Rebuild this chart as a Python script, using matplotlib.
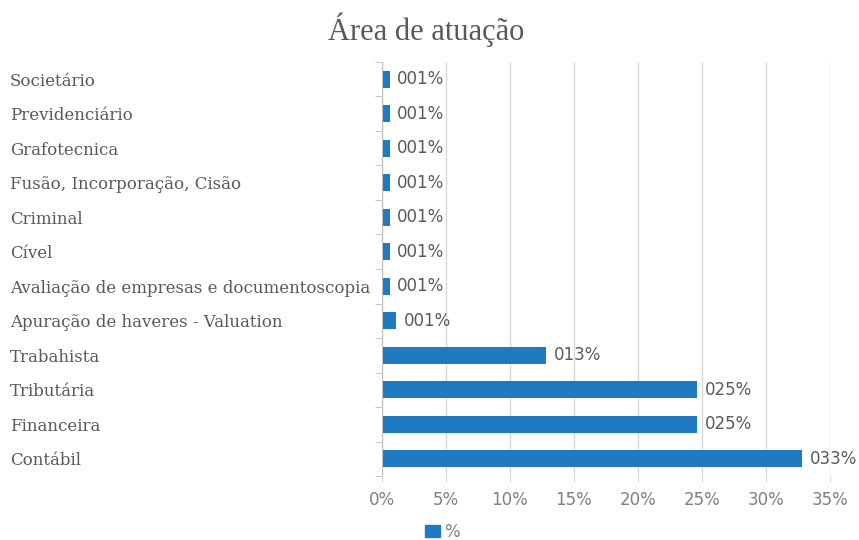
import matplotlib
matplotlib.use("Agg")
import matplotlib.pyplot as plt
from matplotlib.patches import Patch
import numpy as np

categories = ["Contábil", "Financeira", "Tributária", "Trabahista",
              "Apuração de haveres - Valuation",
              "Avaliação de empresas e documentoscopia",
              "Cível", "Criminal", "Fusão, Incorporação, Cisão",
              "Grafotecnica", "Previdenciário", "Societário"]
values = [32.8, 24.6, 24.6, 12.8, 1.1, 0.6, 0.6, 0.6, 0.6, 0.6, 0.6, 0.6]
value_labels = ["033%", "025%", "025%", "013%", "001%", "001%", "001%",
                "001%", "001%", "001%", "001%", "001%"]
xticks = [0, 5, 10, 15, 20, 25, 30, 35]
xtick_labels = ["0%", "5%", "10%", "15%", "20%", "25%", "30%", "35%"]
title = "Área de atuação"
series_name = "%"

bar_color = "#1f7ac2"
text_gray = "#595959"
tick_gray = "#7f7f7f"

fig = plt.figure(figsize=(8.59, 5.40), dpi=100)
ax = fig.add_axes([0.4447, 0.1185, 0.5215, 0.7667])

y = np.arange(len(categories))
ax.barh(y, values, height=0.5, color=bar_color, zorder=3)
ax.set_xlim(0, 35)
ax.set_ylim(-0.5, len(categories) - 0.5)

for yi, v, lab in zip(y, values, value_labels):
    ax.annotate(lab, (v, yi), xytext=(5.5, 0), textcoords="offset points",
                va="center", ha="left", fontsize=12, color=text_gray,
                family="DejaVu Sans", zorder=4)

ax.set_xticks(xticks)
ax.set_xticklabels(xtick_labels, fontsize=12, color=tick_gray, family="DejaVu Sans")
ax.tick_params(axis="x", length=4, color="#d9d9d9", pad=7)

ax.set_yticks(y)
ax.set_yticklabels(categories, fontsize=12, color=text_gray, family="DejaVu Serif")
ax.tick_params(axis="y", which="major", length=0, pad=268)
for t in ax.get_yticklabels():
    t.set_horizontalalignment("left")
ax.set_yticks(np.arange(-0.5, len(categories), 1.0), minor=True)
ax.tick_params(axis="y", which="minor", length=5, color="#bfbfbf")

ax.grid(axis="x", color="#d9d9d9", linewidth=1, zorder=0)
for s in ["top", "right", "bottom"]:
    ax.spines[s].set_visible(False)
ax.spines["left"].set_color("#bfbfbf")
ax.spines["left"].set_zorder(5)

fig.text(0.496, 0.945, title, ha="center", va="center", fontsize=22,
         color=text_gray, family="Liberation Serif")

fig.legend(handles=[Patch(color=bar_color, label=series_name)],
           loc="center", bbox_to_anchor=(0.515, 0.015), frameon=False,
           fontsize=12, labelcolor=tick_gray, handlelength=0.9,
           handleheight=0.8, handletextpad=0.3)

fig.savefig("out.png", dpi=100)
